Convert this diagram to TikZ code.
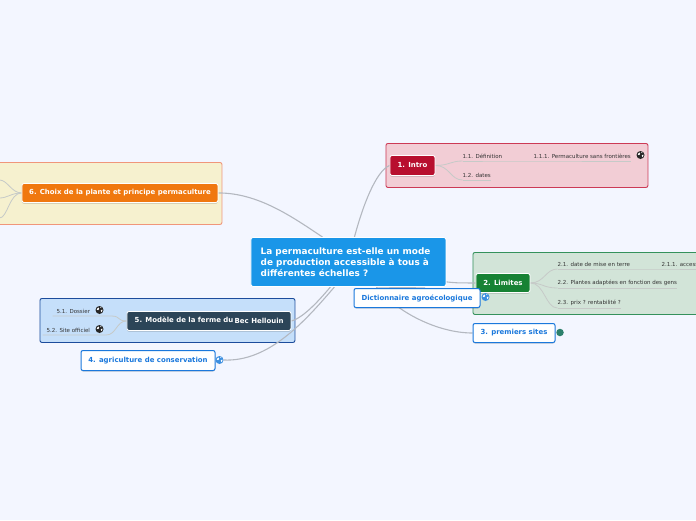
\documentclass[tikz,border=0pt]{standalone}
\usepackage{fontspec}
\setmainfont{DejaVu Sans}
\usetikzlibrary{shadows,calc}
\pgfdeclarelayer{canvas}\pgfdeclarelayer{boxes}\pgfdeclarelayer{links}
\pgfsetlayers{canvas,boxes,links,main}
\definecolor{bgc}{HTML}{F3F6FF}
\definecolor{linkc}{HTML}{B4B8C0}
\definecolor{sublinkc}{HTML}{C6CAC8}
\definecolor{bluec}{HTML}{1A78DC}
\definecolor{globeblue}{HTML}{3C8FE0}
\definecolor{gOneD}{HTML}{CC3A56}
\definecolor{gOneF}{HTML}{F2CDD5}
\definecolor{gTwoD}{HTML}{34915C}
\definecolor{gTwoF}{HTML}{D2E4D8}
\definecolor{gFiveD}{HTML}{1C4C9C}
\definecolor{gFiveF}{HTML}{C5DFFA}
\definecolor{gSixD}{HTML}{F0967A}
\definecolor{gSixF}{HTML}{F6F1CF}
\definecolor{tC}{HTML}{1A96E8}
\definecolor{tOne}{HTML}{B80F2E}
\definecolor{tTwo}{HTML}{178234}
\definecolor{tFive}{HTML}{2C4558}
\definecolor{tSix}{HTML}{F0780F}
\definecolor{teal}{HTML}{2C806C}
\tikzset{
 x=1pt,y=-1pt,
 groupbox/.style={draw=#1,line width=.9pt,rounded corners=2pt,inner sep=0,anchor=north west},
 central/.style={fill=#1,draw=white,line width=.9pt,rounded corners=2pt,inner sep=0,anchor=north west},
 topic/.style={fill=#1,draw=white,line width=.9pt,rounded corners=2pt,inner sep=0,anchor=north west,text=white,
   font=\fontsize{6.95}{8}\selectfont\bfseries,align=center,
   drop shadow={shadow xshift=0pt,shadow yshift=-1.2pt,opacity=.3,fill=black!70}},
 whitetopic/.style={fill=white,draw=bluec,line width=1pt,rounded corners=2pt,inner sep=0,anchor=north west,text=bluec,
   font=\fontsize{6.95}{8}\selectfont\bfseries,align=center,
   drop shadow={shadow xshift=0pt,shadow yshift=-1pt,opacity=.25,fill=black!70}},
 sub/.style={anchor=south west,inner xsep=0pt,inner ysep=2.4pt,font=\fontsize{5.5}{6}\selectfont,text=black!80},
 link/.style={draw=linkc,line width=1.1pt},
 sublink/.style={draw=sublinkc,line width=.8pt},
 globe/.style={circle,fill=#1,inner sep=0,minimum size=8pt},
}
\newcommand{\globemarks}[2]{% node name, colour of land
 \fill[#2] ($(#1.center)+(-2.6,-1.2)$) -- ++(1.8,-1.2) -- ++(.5,1.2) -- ++(-1,1.4) -- ++(-1.2,-.4) -- cycle;
 \fill[#2] ($(#1.center)+(1.4,.2)$) -- ++(1.4,-.6) -- ++(0,1.4) -- ++(-1.2,1.2) -- cycle;
 \fill[#2] ($(#1.center)+(.6,-3)$) -- ++(1.2,.3) -- ++(-.2,1) -- cycle;
}
\begin{document}
\begin{tikzpicture}[xshift=-.5pt]
\useasboundingbox (.5,0) rectangle (696.5,520);
\begin{pgfonlayer}{canvas}
\fill[bgc] (0,0) rectangle (697,520);
\end{pgfonlayer}

% group boxes
\begin{pgfonlayer}{boxes}
\node[groupbox=gOneD,fill=gOneF,minimum width=262pt,minimum height=44pt] (g1) at (386,143) {};
\node[groupbox=gTwoD,fill=gTwoF,minimum width=240pt,minimum height=62pt] (g2) at (473,252) {};
\node[groupbox=gFiveD,fill=gFiveF,minimum width=255pt,minimum height=44pt] (g5) at (40,298) {};
\node[groupbox=gSixD,fill=gSixF,minimum width=232pt,minimum height=62pt] (g6) at (-10,162) {};
\end{pgfonlayer}

% topics
\node[central=tC,minimum width=195pt,minimum height=49pt] (c) at (251,237) {};
\node[anchor=west,inner sep=0,align=left,text=white,font=\fontsize{8.9}{11}\selectfont\bfseries] (ctext) at (261,262) {La permaculture est-elle un mode\\de production accessible à tous à\\différentes échelles ?};
\node[topic=tOne,minimum width=45pt,minimum height=20pt] (t1) at (390,155) {1. Intro};
\node[topic=tTwo,minimum width=54pt,minimum height=19pt] (t2) at (476,273) {2. Limites};
\node[whitetopic,minimum width=126pt,minimum height=19pt] (d) at (354,288) {Dictionnaire agroécologique};
\node[whitetopic,minimum width=82pt,minimum height=19pt] (t3) at (473,323) {3. premiers sites};
\node[whitetopic,minimum width=134pt,minimum height=20pt] (t4) at (81,350) {4. agriculture de conservation};
\node[topic=tFive,minimum width=164pt,minimum height=19pt] (t5) at (127,311) {};
\node[anchor=west,inner sep=0,text=white,font=\fontsize{6.95}{8}\selectfont\bfseries] (t5a) at (135,319.5) {5. Modèle de la ferme du};
\node[anchor=west,inner sep=0,text=white,font=\fontsize{6.95}{8}\selectfont\bfseries] (t5b) at (235,320.5) {Bec Hellouin};
\node[topic=tSix,minimum width=196pt,minimum height=19pt] (t6) at (22,183) {6. Choix de la plante et principe permaculture};

% subtopics
\node[sub] (s11) at (463,161) {1.1. Définition};
\node[sub] (s111) at (534,161) {1.1.1. Permaculture sans frontières};
\node[sub] (s12) at (463,180) {1.2. dates};
\node[sub] (s21) at (558,269) {2.1. date de mise en terre};
\node[sub] (s211) at (662,269) {2.1.1. access};
\node[sub] (s22) at (558,288) {2.2. Plantes adaptées en fonction des gens};
\node[sub] (s23) at (558,308) {2.3. prix ? rentabilité ?};
\node[sub] (s51) at (57,316) {5.1. Dossier};
\node[sub] (s52) at (47,335) {5.2. Site officiel};
\coordinate (e1) at (0,180);
\coordinate (e2) at (0,198);
\coordinate (e3) at (0,218);

% icons
\node[globe=black!85] (g111) at (641,155) {}; \globemarks{g111}{white}
\node[globe=black!85] (g51) at (100,310) {}; \globemarks{g51}{white}
\node[globe=black!85] (g52) at (100,329) {}; \globemarks{g52}{white}
\node[globe=globeblue] (gd) at (486,297) {}; \globemarks{gd}{white}
\node[globe=globeblue] (g4) at (220,360) {}; \globemarks{g4}{white}
\node[circle,fill=teal,inner sep=0,minimum size=7.5pt] (i3) at (560.5,332.5) {};

% connectors
\begin{pgfonlayer}{links}
\draw[link] ($(c.north)+(6,0)$) .. controls +(8,-30) and +(-14,6) .. (t1.west);
\draw[link] ($(c.south east)+(0,-5)$) .. controls +(10,1) and +(-20,0) .. (t2.west);
\draw[link] ($(c.south)+(28,0)$) .. controls +(20,25) and +(-35,0) .. (t3.west);
\draw[link] ($(c.south)+(28,0)$) -- ($(d.north)+(8,0)$);
\draw[link] (t6.east) .. controls +(40,0) and +(-30,-20) .. ($(c.north)+(-26,0)$);
\draw[link] (t5.east) .. controls +(12,-3) and +(-10,12) .. ($(c.south)+(-18,0)$);
\draw[link] (g4.east) .. controls +(45,2) and +(-30,35) .. ($(c.south)+(-14,0)$);

\draw[sublink] (t1.east) .. controls +(14,0) and +(-12,0) .. (s11.south west);
\draw[sublink] (t1.east) .. controls +(14,0) and +(-12,0) .. (s12.south west);
\draw[sublink] (s11.south west) -- (s11.south east) -- (s111.south west) -- (s111.south east);
\draw[sublink] (s12.south west) -- (s12.south east);

\draw[sublink] (t2.east) .. controls +(14,0) and +(-12,0) .. (s21.south west);
\draw[sublink] (t2.east) .. controls +(12,0) and +(-14,0) .. (s22.south west);
\draw[sublink] (t2.east) .. controls +(14,0) and +(-12,0) .. (s23.south west);
\draw[sublink] (s21.south west) -- (s21.south east) -- (s211.south west) -- (s211.south east);
\draw[sublink] (s22.south west) -- (s22.south east);
\draw[sublink] (s23.south west) -- (s23.south east);

\draw[sublink] (t5.west) .. controls +(-10,0) and +(10,0) .. ($(s51.south east)+(21,0)$) -- ($(s51.south west)+(-4,0)$);
\draw[sublink] (t5.west) .. controls +(-10,0) and +(10,0) .. ($(s52.south east)+(16,0)$) -- ($(s52.south west)+(-4,0)$);

\draw[sublink] (t6.west) .. controls +(-10,0) and +(8,0) .. (e1);
\draw[sublink] (t6.west) .. controls +(-10,0) and +(8,0) .. (e2);
\draw[sublink] (t6.west) .. controls +(-12,0) and +(8,0) .. (e3);
\end{pgfonlayer}
\end{tikzpicture}
\end{document}
